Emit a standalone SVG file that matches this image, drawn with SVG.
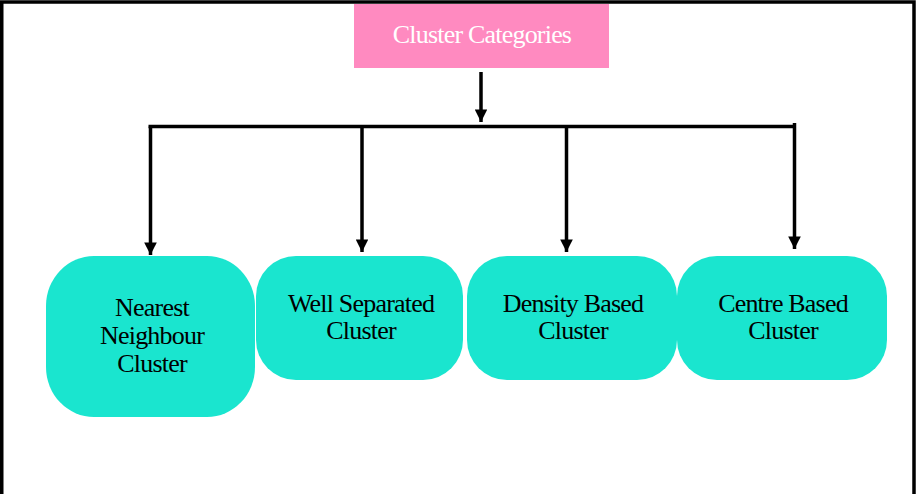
<svg xmlns="http://www.w3.org/2000/svg" width="922" height="494" viewBox="0 0 922 494">
  <defs>
    <style>
      .frame { fill: none; stroke: #000; stroke-width: 3.5; }
      .conn { fill: none; stroke: #000; stroke-width: 3.5; }
      .node { fill: #1AE5CF; }
      .lbl { font-family: "Liberation Serif", "Times New Roman", serif; font-size: 26px; fill: #000; text-anchor: middle; letter-spacing: -0.8px; }
      .title { font-family: "Liberation Serif", "Times New Roman", serif; font-size: 26px; fill: #fff; text-anchor: middle; letter-spacing: -0.8px; }
    </style>
    <marker id="arrow" viewBox="0 0 10 10" refX="10" refY="5" markerWidth="3.6" markerHeight="3.6" markerUnits="strokeWidth" orient="auto">
      <path d="M0,0 L10,5 L0,10 Z" fill="#000"/>
    </marker>
  </defs>

  <rect x="0" y="0" width="922" height="494" fill="#fff"/>

  <path class="frame" d="M1.75,494 V2 H914 V494"/>

  <g id="root">
    <rect x="354" y="4" width="255" height="64" fill="#FF8AC0"/>
    <text class="title" x="482" y="43">Cluster Categories</text>
  </g>

  <g id="connectors">
    <line class="conn" x1="481" y1="72" x2="481" y2="122" marker-end="url(#arrow)"/>
    <line class="conn" x1="148.5" y1="126.5" x2="796" y2="126.5"/>
    <line class="conn" x1="150.5" y1="126.5" x2="150.5" y2="255" marker-end="url(#arrow)"/>
    <line class="conn" x1="362" y1="126.5" x2="362" y2="252" marker-end="url(#arrow)"/>
    <line class="conn" x1="566.5" y1="126.5" x2="566.5" y2="252" marker-end="url(#arrow)"/>
    <line class="conn" x1="794.5" y1="123" x2="794.5" y2="249" marker-end="url(#arrow)"/>
  </g>

  <g id="nearest">
    <rect class="node" x="46" y="256" width="209" height="161" rx="48" ry="50"/>
    <text class="lbl" x="152" y="316">Nearest</text>
    <text class="lbl" x="152" y="344">Neighbour</text>
    <text class="lbl" x="152" y="372">Cluster</text>
  </g>

  <g id="well-separated">
    <rect class="node" x="256" y="256" width="207" height="124" rx="40" ry="40"/>
    <text class="lbl" x="361" y="312">Well Separated</text>
    <text class="lbl" x="361" y="339">Cluster</text>
  </g>

  <g id="density">
    <rect class="node" x="467" y="256" width="210" height="124" rx="40" ry="40"/>
    <text class="lbl" x="573" y="312">Density Based</text>
    <text class="lbl" x="573" y="339">Cluster</text>
  </g>

  <g id="centre">
    <rect class="node" x="677" y="256" width="210" height="124" rx="40" ry="40"/>
    <text class="lbl" x="783" y="312">Centre Based</text>
    <text class="lbl" x="783" y="339">Cluster</text>
  </g>
</svg>
